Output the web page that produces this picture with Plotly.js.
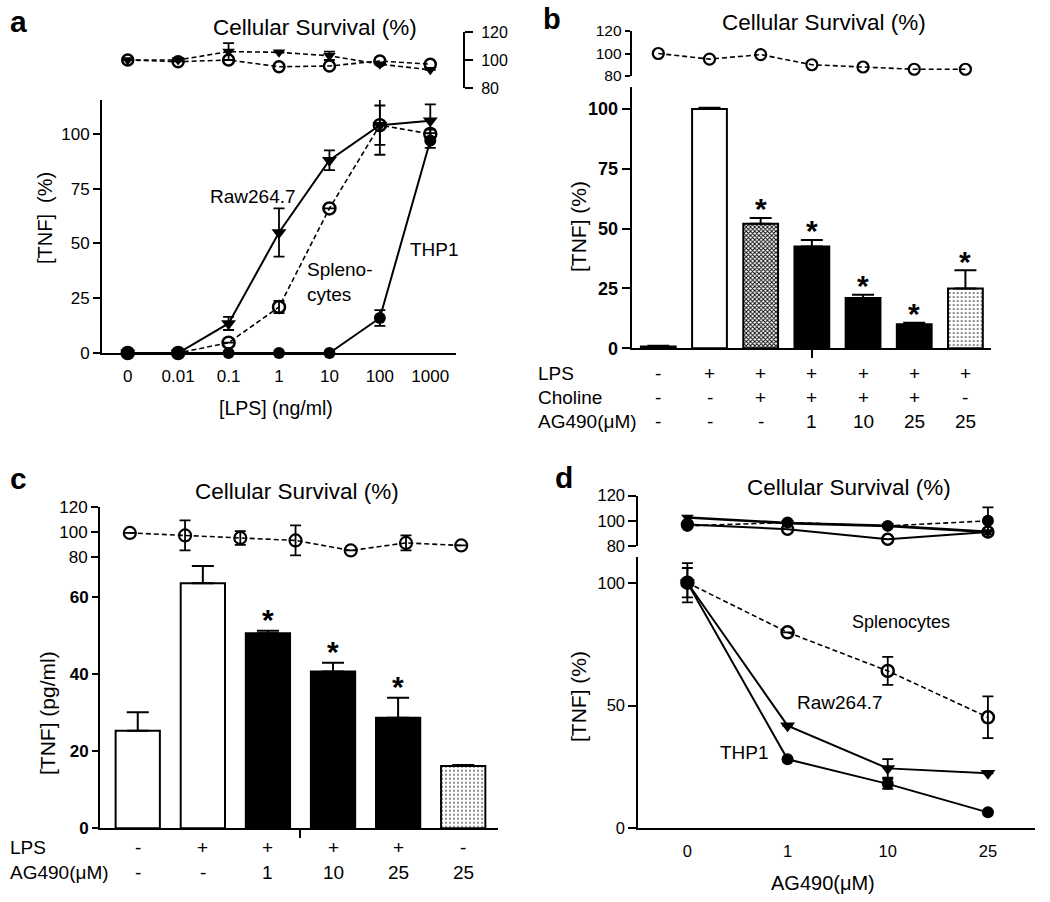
<!DOCTYPE html>
<html><head><meta charset="utf-8">
<script src="https://cdn.plot.ly/plotly-3.0.1.min.js"></script>
<style>html,body{margin:0;padding:0;background:#fff}#chart{width:1050px;height:902px}</style>
</head><body><div id="chart"></div>
<script>
// ---------------- DATA ----------------
// Panel a : TNF vs LPS dose
const lpsLabels = ['0','0.01','0.1','1','10','100','1000'];
const aRaw      = [0, 0, 13.5, 55, 88, 104, 106];
const aRawErr   = [0, 0, 3, 11, 4.5, 13.5, 7.5];
const aSplen    = [0, 0, 4.7, 21, 66, 104, 100];
const aSplenErr = [0, 0, 0, 2.8, 0, 9, 2];
const aThp1     = [0, 0, 0, 0, 0, 16, 97];
const aThp1Err  = [0, 0, 0, 0, 0, 3.6, 3.4];
const aSurvRaw     = [100, 100, 106, 105.5, 103, 97, 93];
const aSurvRawErr  = [0, 1, 6, 0, 3, 0, 0];
const aSurvSplen   = [100, 98.8, 100, 95.2, 95.7, 99.3, 97];

// Panel b : choline + AG490, TNF (%)
const bLps     = ['-','+','+','+','+','+','+'];
const bCholine = ['-','-','+','+','+','+','-'];
const bAg490   = ['-','-','-','1','10','25','25'];
const bTnf     = [0.8, 100, 52, 42.5, 21, 10, 25];
const bTnfErr  = [0.3, 0.5, 2.5, 2.8, 1.4, 0.7, 7.6];
const bSig     = [false, false, true, true, true, true, true];
const bSurv    = [100, 95, 99, 90, 88, 86, 86];

// Panel c : AG490, TNF (pg/ml)
const cLps     = ['-','+','+','+','+','-'];
const cAg490   = ['-','-','1','10','25','25'];
const cTnf     = [25.3, 63.6, 50.6, 40.7, 28.7, 16.2];
const cTnfErr  = [4.8, 4.5, 0.7, 2.3, 5.2, 0.2];
const cSig     = [false, false, true, true, true, false];
const cSurv    = [99, 97, 95, 93, 85, 91, 89];
const cSurvErr = [0, 12, 5.5, 12, 0, 6, 0];

// Panel d : AG490 dose, three cell types
const agLabels  = ['0','1','10','25'];
const dSplen    = [100, 79.8, 64.1, 45.2];
const dSplenErr = [6, 0, 5.7, 8.5];
const dRaw      = [100, 41.8, 24.4, 22.4];
const dRawErr   = [8, 0, 3.8, 0];
const dThp1     = [100, 28.1, 18.1, 6.5];
const dThp1Err  = [0, 0, 2, 0];
const dSurvRaw   = [102.7, 98.2, 96, 91.2];
const dSurvThp1  = [96, 98.7, 96, 100];
const dSurvThp1Err = [0, 0, 0, 10.7];
const dSurvSplen = [97, 93.4, 85.4, 91.2];

// ---------------- HELPERS ----------------
const W = 1050, H = 902;
const fx = p => p / W, fy = p => 1 - p / H;
const FONT = 'Liberation Sans, Arial, Helvetica, sans-serif';
const idx = arr => arr.map((_, i) => i);

const axBase = {
  showgrid: false, zeroline: false, showline: true, linecolor: 'black', linewidth: 2,
  ticks: 'outside', tickcolor: 'black', tickwidth: 2, ticklen: 7,
  tickfont: {family: FONT, size: 17, color: 'black'}, fixedrange: true
};
const hidden = {visible: false, fixedrange: true};
const ax = o => Object.assign({}, axBase, o);

function errBars(arr, w) {
  return {type: 'data', array: arr, visible: true, color: 'black', thickness: 1.8, width: w};
}
function line(x, y, err, xa, ya, opts) {
  return Object.assign({
    type: 'scatter', mode: 'lines+markers', x: x, y: y, xaxis: xa, yaxis: ya,
    cliponaxis: false, hoverinfo: 'skip', showlegend: false,
    error_y: err ? errBars(err, 5.5) : undefined
  }, opts);
}
const solid = {color: 'black', width: 2};
const dashed = {color: 'black', width: 1.6, dash: '5px,3px'};
const triM = {symbol: 'triangle-down', size: 13, color: 'black'};
const dotM = {symbol: 'circle', size: 12, color: 'black'};
const openM = {symbol: 'circle-open', size: 12, color: 'black', line: {width: 2.5, color: 'black'}};

// bar styles derived from the treatment table
function styleB(i) {
  const ch = bCholine[i] === '+', ag = bAg490[i] !== '-';
  if (ch && ag) return 'solid';
  if (ch) return 'hatch';
  if (ag) return 'dots';
  return 'open';
}
function styleC(i) {
  const lps = cLps[i] === '+', ag = cAg490[i] !== '-';
  if (lps && ag) return 'solid';
  if (ag) return 'dots';
  return 'open';
}
function barMarker(s) {
  const m = {color: s === 'solid' ? 'black' : s === 'hatch' ? '#8a8a8a' : s === 'dots' ? '#f4f4f4' : 'white',
             line: {color: 'black', width: 2}};
  if (s === 'hatch') m.pattern = {shape: 'x', size: 3, solidity: 0.5, fgcolor: 'black', bgcolor: 'white', fillmode: 'replace'};
  if (s === 'dots') m.pattern = {shape: '.', size: 4, solidity: 0.15, fgcolor: '#222', bgcolor: 'white', fillmode: 'replace'};
  return m;
}
// one trace per bar so that each bar gets its own fill
function bars(y, err, styleOf, xa, ya) {
  return y.map((v, i) => ({
    type: 'bar', x: [i], y: [v], width: 0.68, xaxis: xa, yaxis: ya,
    marker: barMarker(styleOf(i)), hoverinfo: 'skip', showlegend: false,
    error_y: {type: 'data', symmetric: false, array: [err[i]], arrayminus: [0],
              color: 'black', thickness: 2, width: 11}
  }));
}

// ---------------- TRACES ----------------
const traces = [
  // panel a
  line(lpsLabels, aThp1, aThp1Err, 'x', 'y', {line: solid, marker: dotM}),
  line(lpsLabels, aSplen, aSplenErr, 'x', 'y', {line: dashed, marker: openM}),
  line(lpsLabels, aRaw, aRawErr, 'x', 'y', {line: solid, marker: triM}),
  line(lpsLabels, aSurvSplen, null, 'x2', 'y2', {line: dashed, marker: Object.assign({}, openM, {size: 11})}),
  line(lpsLabels, aSurvRaw, aSurvRawErr, 'x2', 'y2', {line: dashed, marker: Object.assign({}, triM, {size: 11})}),
  // panel b
  ...bars(bTnf, bTnfErr, styleB, 'x3', 'y3'),
  line(idx(bSurv), bSurv, null, 'x4', 'y4', {line: dashed, marker: Object.assign({}, openM, {size: 11, line: {width: 2.2, color: 'black'}})}),
  // panel c
  ...bars(cTnf, cTnfErr, styleC, 'x5', 'y5'),
  line(idx(cSurv), cSurv, cSurvErr, 'x6', 'y6', {line: dashed, marker: Object.assign({}, openM, {size: 12, line: {width: 2.2, color: 'black'}})}),
  // panel d
  line(agLabels, dSplen, dSplenErr, 'x7', 'y7', {line: dashed, marker: openM}),
  line(agLabels, dRaw, dRawErr, 'x7', 'y7', {line: solid, marker: triM}),
  line(agLabels, dThp1, dThp1Err, 'x7', 'y7', {line: solid, marker: dotM}),
  line(agLabels, dSurvSplen, null, 'x8', 'y8', {line: solid, marker: Object.assign({}, openM, {size: 11})}),
  line(agLabels, dSurvThp1, dSurvThp1Err, 'x8', 'y8', {line: dashed, marker: Object.assign({}, dotM, {size: 12})}),
  line(agLabels, dSurvRaw, null, 'x8', 'y8', {line: {color: 'black', width: 2.6}, marker: Object.assign({}, triM, {size: 11})})
];

// ---------------- ANNOTATIONS ----------------
const ann = [];
function txt(text, x, y, o) {
  ann.push(Object.assign({
    text: text, x: fx(x), y: fy(y), xref: 'paper', yref: 'paper', showarrow: false,
    xanchor: 'center', yanchor: 'middle', font: {family: FONT, size: 19, color: 'black'}
  }, o || {}));
}
const bold = s => ({family: FONT, size: s, color: 'black', weight: 'bold'});
// panel letters
txt('a', 18, 21, {font: bold(30)});
txt('b', 552, 19, {font: bold(29)});
txt('c', 18, 478, {font: bold(30)});
txt('d', 564, 477, {font: bold(30)});
// survival titles
const tfont = {family: FONT, size: 22.5, color: 'black'};
txt('Cellular Survival (%)', 315, 28, {font: tfont});
txt('Cellular Survival (%)', 824, 22, {font: tfont});
txt('Cellular Survival (%)', 297, 491, {font: tfont});
txt('Cellular Survival (%)', 849, 487, {font: tfont});
// axis titles
txt('[TNF]  (%)', 45, 218, {textangle: -90, font: {family: FONT, size: 20, color: 'black'}});
txt('[LPS] (ng/ml)', 276, 408, {font: {family: FONT, size: 19.5, color: 'black'}});
txt('[TNF] (%)', 578, 227, {textangle: -90, font: {family: FONT, size: 21, color: 'black'}});
txt('[TNF] (pg/ml)', 47, 713, {textangle: -90, font: {family: FONT, size: 21, color: 'black'}});
txt('[TNF] (%)', 578, 697, {textangle: -90, font: {family: FONT, size: 21, color: 'black'}});
txt('AG490(μM)', 823, 883, {font: {family: FONT, size: 20, color: 'black'}});
// line labels
txt('Raw264.7', 253, 197);
txt('Spleno-<br>cytes', 305, 282, {xanchor: 'left', align: 'left'});
txt('THP1', 434, 249);
txt('Splenocytes', 901, 622, {font: {family: FONT, size: 18, color: 'black'}});
txt('Raw264.7', 840, 702);
txt('THP1', 744, 752);
// treatment tables
function tableRow(label, vals, xa, ypx, labelX) {
  txt(label, labelX, ypx, {xanchor: 'left'});
  vals.forEach((v, i) => ann.push({
    text: v, x: i, xref: xa, y: fy(ypx), yref: 'paper', showarrow: false,
    xanchor: 'center', yanchor: 'middle', font: {family: FONT, size: 19, color: 'black'}
  }));
}
tableRow('LPS', bLps, 'x3', 373, 536);
tableRow('Choline', bCholine, 'x3', 397, 536);
tableRow('AG490(μM)', bAg490, 'x3', 422, 536);
tableRow('LPS', cLps, 'x5', 847, 8);
tableRow('AG490(μM)', cAg490, 'x5', 872, 8);
// significance asterisks
function stars(vals, errs, sig, xa, ya, shift) {
  vals.forEach((v, i) => { if (sig[i]) ann.push({
    text: '*', x: i, xref: xa, y: v + errs[i], yref: ya, showarrow: false,
    xanchor: 'center', yanchor: 'middle', yshift: shift, font: bold(30)
  }); });
}
stars(bTnf, bTnfErr, bSig, 'x3', 'y3', 9);
stars(cTnf, cTnfErr, cSig, 'x5', 'y5', 11);

// ---------------- LAYOUT ----------------
const layout = {
  width: W, height: H, margin: {l: 0, r: 0, t: 0, b: 0},
  paper_bgcolor: 'white', plot_bgcolor: 'rgba(0,0,0,0)', showlegend: false,
  font: {family: FONT, color: 'black'}, barmode: 'overlay',
  // a
  xaxis: ax({domain: [fx(102), fx(456)], anchor: 'y', type: 'category', range: [-0.51, 6.51], ticks: '', ticklabelstandoff: 7, tickfont: {family: FONT, size: 17, color: 'black'}}),
  yaxis: ax({domain: [fy(353), fy(100)], anchor: 'x', range: [0, 115.5], tickvals: [0, 25, 50, 75, 100]}),
  xaxis2: Object.assign({domain: [fx(102), fx(456)], anchor: 'y2', type: 'category', range: [-0.51, 6.51]}, hidden),
  yaxis2: ax({domain: [fy(88), fy(32)], anchor: 'free', position: fx(464), side: 'right', range: [80, 120], tickvals: [80, 100, 120], ticklen: 8, ticklabelstandoff: 5, tickfont: {family: FONT, size: 16, color: 'black'}}),
  // b
  xaxis3: ax({domain: [fx(631.7), fx(991)], anchor: 'y3', range: [-0.52, 6.5], tickvals: [3], showticklabels: false, ticklen: 8}),
  yaxis3: ax({domain: [fy(348.3), fy(87)], anchor: 'x3', range: [0, 109.2], tickvals: [0, 25, 50, 75, 100], ticklen: 8, tickfont: bold(18)}),
  xaxis4: Object.assign({domain: [fx(631.7), fx(991)], anchor: 'y4', range: [-0.52, 6.5]}, hidden),
  yaxis4: ax({domain: [fy(76), fy(31)], anchor: 'x4', range: [80, 120], tickvals: [80, 100, 120], ticklen: 5, tickfont: {family: FONT, size: 15.5, color: 'black'}}),
  // c
  xaxis5: ax({domain: [fx(100), fx(497.7)], anchor: 'y5', range: [-0.58, 5.53], tickvals: [2.5], showticklabels: false, ticklen: 8}),
  yaxis5: ax({domain: [fy(828.3), fy(556.7)], anchor: 'x5', range: [0, 70.5], tickvals: [0, 20, 40, 60], ticklen: 6, tickfont: bold(17)}),
  xaxis6: Object.assign({domain: [fx(100), fx(497.7)], anchor: 'y6', range: [-0.54, 6.66]}, hidden),
  yaxis6: ax({domain: [fy(556.7), fy(506.7)], anchor: 'x6', range: [80, 120], tickvals: [80, 100, 120], ticklen: 7, tickfont: {family: FONT, size: 17, color: 'black'}}),
  // d
  xaxis7: ax({domain: [fx(638.3), fx(1035)], anchor: 'y7', type: 'category', range: [-0.49, 3.47], ticks: '', ticklabelstandoff: 7, tickfont: {family: FONT, size: 16.5, color: 'black'}}),
  yaxis7: ax({domain: [fy(828.3), fy(556.7)], anchor: 'x7', range: [0, 110.6], tickvals: [0, 50, 100], ticklen: 8, tickfont: {family: FONT, size: 16.5, color: 'black'}}),
  xaxis8: Object.assign({domain: [fx(638.3), fx(1035)], anchor: 'y8', type: 'category', range: [-0.49, 3.47]}, hidden),
  yaxis8: ax({domain: [fy(546), fy(495.7)], anchor: 'x8', range: [80, 120], tickvals: [80, 100, 120], ticklen: 8, tickfont: {family: FONT, size: 16.5, color: 'black'}}),
  annotations: ann
};

Plotly.newPlot('chart', traces, layout, {staticPlot: true, displayModeBar: false});
</script>
</body></html>
